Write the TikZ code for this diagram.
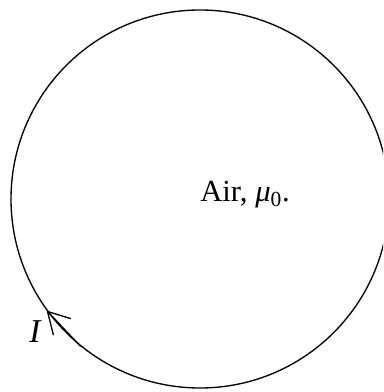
\documentclass[tikz,border=0pt]{standalone}
\usepackage{fontspec}
\setmainfont{Liberation Serif}
\usetikzlibrary{arrows.meta}

\begin{document}
\begin{tikzpicture}[x=0.75pt,y=0.75pt,line width=1pt]
	\useasboundingbox[clip] (0,0) rectangle (383,392);
	\node (loop) at (200,193) [draw,circle,minimum size=283.5pt,inner sep=0pt] {};
	\node (air) at (245,190.3) [anchor=base,font=\fontsize{23}{27}\selectfont] {Air, \textit{μ}\textsubscript{0}.};
	\node (cur) at (35.5,49.5) [anchor=base,font=\fontsize{25}{30}\selectfont] {\textit{I}};
	\path[draw,-{Straight Barb[length=16pt,width=18pt]}] (loop.231) -- (loop.216);
\end{tikzpicture}
\end{document}
